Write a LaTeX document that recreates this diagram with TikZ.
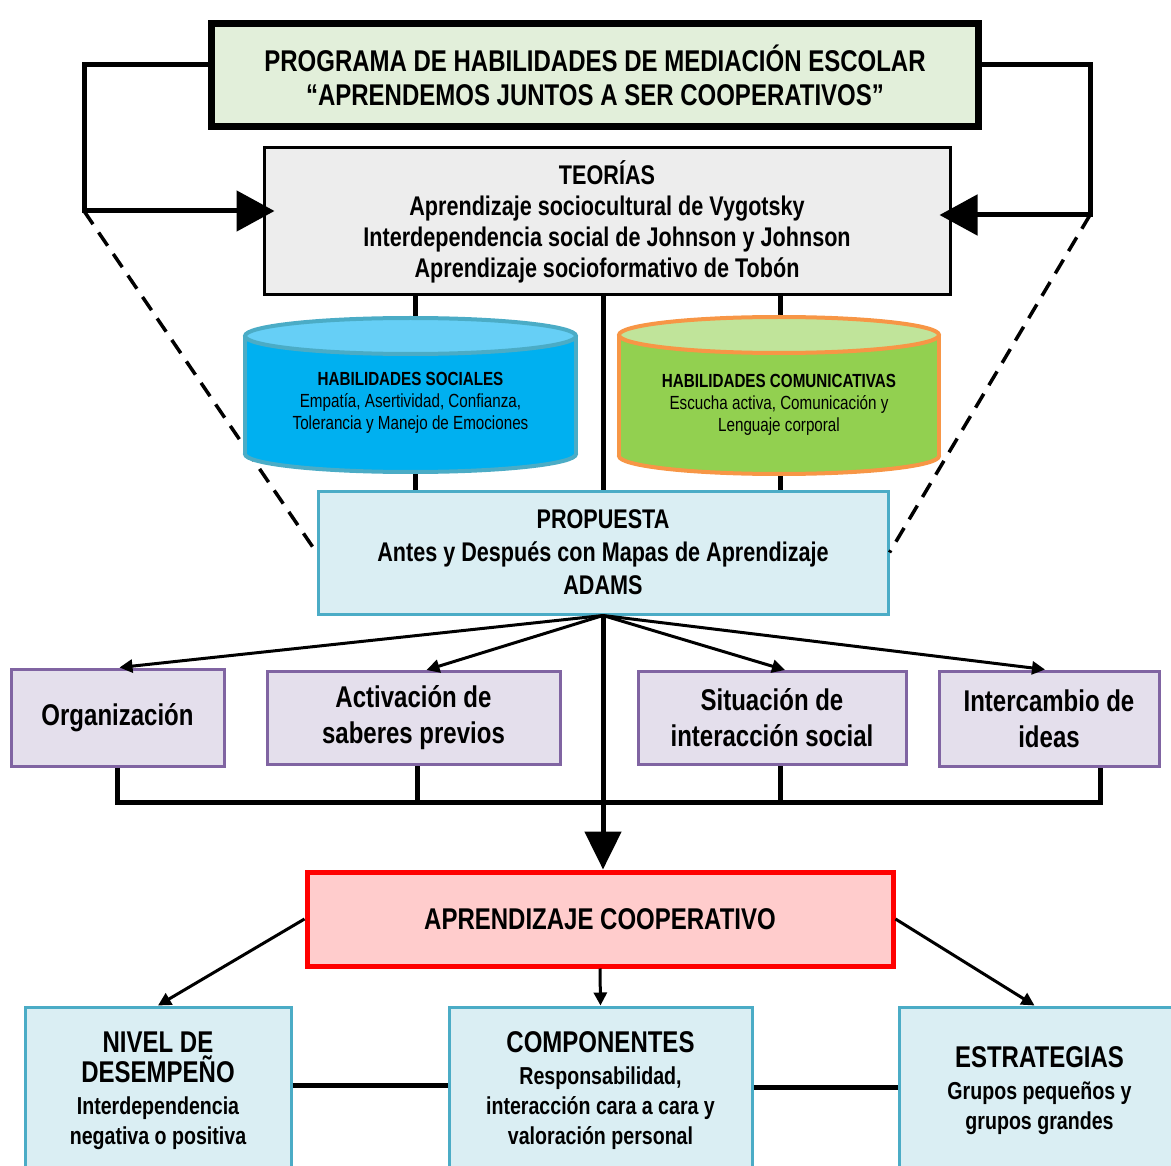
\documentclass[tikz,border=0pt]{standalone}
\usepackage{fontspec}
\setmainfont{Liberation Sans}[FakeStretch=0.8]
\usetikzlibrary{arrows.meta,calc}
\definecolor{topgreen}{HTML}{E2EFDA}
\definecolor{theogray}{HTML}{EDEDED}
\definecolor{lblue}{HTML}{DAEEF3}
\definecolor{bluedge}{HTML}{4BACC6}
\definecolor{lpurple}{HTML}{E4DFEC}
\definecolor{purpedge}{HTML}{8064A2}
\definecolor{lred}{HTML}{FFCCCC}
\definecolor{cylLbody}{HTML}{00B0F0}
\definecolor{cylLtop}{HTML}{66CFF6}
\definecolor{cylRbody}{HTML}{92D050}
\definecolor{cylRtop}{HTML}{C0E49A}
\definecolor{cylRedge}{HTML}{F79646}
\newcommand{\bigf}{\fontsize{30}{35}\selectfont}
\newcommand{\smallf}{\fontsize{24.5}{30}\selectfont}
\begin{document}
\begin{tikzpicture}[x=1pt,y=-1pt,
  box/.style={rectangle, draw, align=center, inner sep=0pt},
  topbox/.style={box, line width=7pt, fill=topgreen, minimum width=767pt, minimum height=103pt, font=\bfseries\fontsize{30}{34}\selectfont},
  theobox/.style={box, line width=3pt, fill=theogray, minimum width=686pt, minimum height=147pt, font=\bfseries\fontsize{27}{31}\selectfont},
  propbox/.style={box, line width=3pt, draw=bluedge, fill=lblue, minimum width=570pt, minimum height=123pt, font=\bfseries\fontsize{27}{33}\selectfont},
  purpbox/.style={box, line width=3pt, draw=purpedge, fill=lpurple, minimum height=93pt, font=\bfseries\fontsize{30}{36}\selectfont},
  aprbox/.style={box, line width=5pt, draw=red, fill=lred, minimum width=586pt, minimum height=94pt, font=\bfseries\fontsize{30}{34}\selectfont},
  botbox/.style={box, line width=3pt, draw=bluedge, fill=lblue, minimum height=168pt, font=\bfseries\smallf},
  cyltext/.style={align=center, inner sep=0pt, font=\fontsize{19}{22}\selectfont},
  conn/.style={line width=5pt},
  bigarrow/.style={line width=5pt, -{Triangle[length=38pt,width=40pt]}, shorten >=-12pt},
  arr/.style={line width=3pt, -{Triangle[length=13pt,width=13pt]}},
  dashline/.style={line width=3.5pt, dash pattern=on 16pt off 10pt}
]
\useasboundingbox (0,0) rectangle (1171,1166);
\clip (0,0) rectangle (1171,1166);

% main boxes
\node[topbox] (prog) at (595,75) {PROGRAMA DE HABILIDADES DE MEDIACIÓN ESCOLAR\\“APRENDEMOS JUNTOS A SER COOPERATIVOS”};
\node[theobox] (theo) at (607,221.5) {TEORÍAS\\Aprendizaje sociocultural de Vygotsky\\Interdependencia social de Johnson y Johnson\\Aprendizaje socioformativo de Tobón};
\node[propbox] (prop) at (603,552.5) {PROPUESTA\\Antes y Después con Mapas de Aprendizaje\\ADAMS};

% side elbows
\coordinate (L1) at (84,65);
\coordinate (L2) at (84,211);
\coordinate (R1) at (1090,65);
\coordinate (R2) at (1090,215);
\draw[bigarrow] (prog.west |- L1) -- (L1) -- (L2) -- (theo.west |- L2);
\draw[bigarrow] (prog.east |- R1) -- (R1) -- (R2) -- (theo.east |- R2);
\draw[dashline] (L2) -- (prop.west);
\draw[dashline] (R2) -- (prop.east);

% vertical lines theories -> proposal
\coordinate (xL) at (415,0);
\coordinate (xR) at (780,0);
\draw[conn] (theo.south -| xL) -- (prop.north -| xL);
\draw[conn] (theo.south -| xR) -- (prop.north -| xR);
\draw[conn] (theo.south -| prop.north) -- (prop.north);

% left cylinder
\filldraw[fill=cylLbody, draw=bluedge, line width=4pt] (410.5,454) ellipse [x radius=165.5, y radius=18];
\fill[cylLbody] (245,336) rectangle (576,454);
\draw[bluedge, line width=4pt] (245,336) -- (245,454) (576,336) -- (576,454);
\filldraw[fill=cylLtop, draw=bluedge, line width=4pt] (410.5,336) ellipse [x radius=165.5, y radius=18];
\node[cyltext] (habsoc) at (410.5,403) {\textbf{HABILIDADES SOCIALES}\\Empatía, Asertividad, Confianza,\\Tolerancia y Manejo de Emociones};

% right cylinder
\filldraw[fill=cylRbody, draw=cylRedge, line width=4pt] (779,456) ellipse [x radius=160, y radius=18];
\fill[cylRbody] (619,335) rectangle (939,456);
\draw[cylRedge, line width=4pt] (619,335) -- (619,456) (939,335) -- (939,456);
\filldraw[fill=cylRtop, draw=cylRedge, line width=4pt] (779,335) ellipse [x radius=160, y radius=18];
\node[cyltext] (habcom) at (779,405) {\textbf{HABILIDADES COMUNICATIVAS}\\Escucha activa, Comunicación y\\Lenguaje corporal};

% purple boxes
\node[purpbox, minimum width=213pt, minimum height=97pt] (org) at (117.5,717.5) {Organización};
\node[purpbox, minimum width=293pt] (act) at (413.5,718) {Activación de\\saberes previos};
\node[purpbox, minimum width=268pt] (sit) at (772,718) {Situación de\\interacción social};
\node[purpbox, minimum width=220pt, minimum height=95pt] (int) at (1049,718.5) {Intercambio de\\ideas};

\draw[arr] (prop.south) -- ([xshift=2pt]org.north);
\draw[arr] (prop.south) -- ([xshift=13pt]act.north);
\draw[arr] (prop.south) -- ([xshift=13pt]sit.north);
\draw[arr] (prop.south) -- ([xshift=-4pt]int.north);

% bracket
\coordinate (bR) at (1100,802);
\draw[conn] (org.south) -- (org.south |- bR) -- (bR) -- (int.south -| bR);
\draw[conn] ([xshift=4pt]act.south) -- ([xshift=4pt]act.south |- bR);
\draw[conn] ([xshift=8pt]sit.south) -- ([xshift=8pt]sit.south |- bR);

% aprendizaje cooperativo
\node[aprbox] (apr) at (600,919) {APRENDIZAJE COOPERATIVO};
\draw[line width=5pt, -{Triangle[length=38pt,width=36pt]}] (prop.south) -- (prop.south |- apr.north);

% bottom boxes
\node[botbox, minimum width=266pt] (nivel) at (158,1091) {\bigf NIVEL DE\\\bigf DESEMPEÑO\\[2pt]\smallf Interdependencia\\\smallf negativa o positiva};
\node[botbox, minimum width=303pt] (comp) at (600.5,1091) {\bigf COMPONENTES\\[2pt]\smallf Responsabilidad,\\\smallf interacción cara a cara y\\\smallf valoración personal};
\node[botbox, minimum width=280pt] (estr) at (1039.5,1091) {\bigf ESTRATEGIAS\\[2pt]\smallf Grupos pequeños y\\\smallf grupos grandes};

\draw[arr] (apr.west) -- (nivel.north);
\draw[arr] (apr.south) -- (comp.north);
\draw[arr] (apr.east) -- ([xshift=-5pt]estr.north);
\draw[conn] ([yshift=6pt]nivel.east) -- ([yshift=6pt]comp.west);
\draw[conn] ([yshift=4pt]comp.east) -- ([yshift=4pt]estr.west);
\end{tikzpicture}
\end{document}
